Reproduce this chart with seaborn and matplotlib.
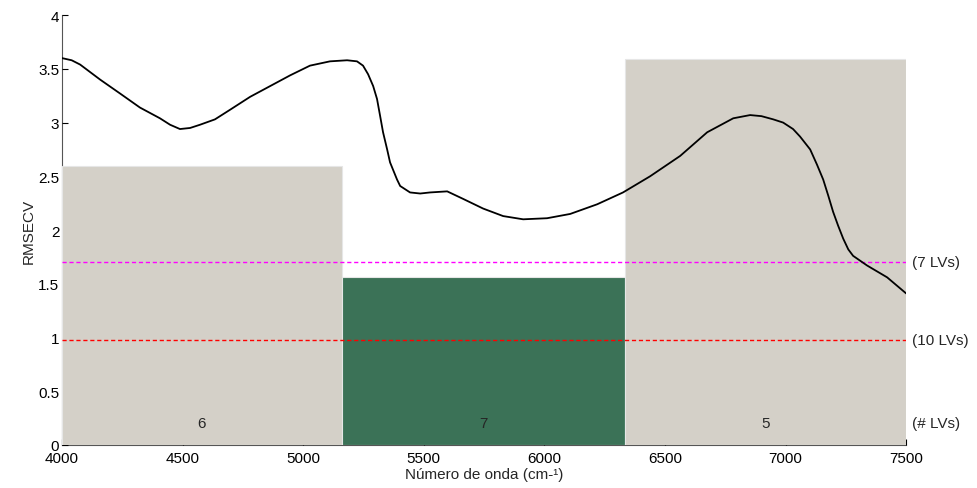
import matplotlib
matplotlib.use("Agg")
import matplotlib.pyplot as plt
import seaborn as sns
import pandas as pd

# interval model: edges, RMSECV per interval, number of LVs
interval_start = [4000, 5160, 6335]
interval_end = [5160, 6335, 7500]
interval_rmsecv = [2.6, 1.563, 3.59]
interval_lvs = ["6", "7", "5"]
interval_colors = ["#D4D0C8", "#3B7257", "#D4D0C8"]

# global model references
ref_rmsecv = [1.70, 0.977]
ref_labels = ["(7 LVs)", "(10 LVs)"]
ref_colors = ["#FF00FF", "#FF0000"]

# mean spectrum
wavenumber = [4000, 4040, 4075, 4158, 4241, 4323, 4406, 4448, 4489, 4531, 4572,
              4634, 4697, 4780, 4863, 4946, 5028, 5111, 5182, 5223, 5248, 5269,
              5290, 5306, 5319, 5331, 5348, 5360, 5389, 5402, 5443, 5485, 5526,
              5597, 5663, 5746, 5829, 5912, 6011, 6107, 6219, 6326, 6438, 6563,
              6675, 6783, 6853, 6900, 6949, 6990, 7031, 7060, 7102, 7130, 7156,
              7177, 7197, 7218, 7239, 7260, 7280, 7338, 7421, 7500]
spectrum = [3.60, 3.58, 3.54, 3.40, 3.27, 3.14, 3.04, 2.98, 2.94, 2.95, 2.98,
            3.03, 3.12, 3.24, 3.34, 3.44, 3.53, 3.57, 3.58, 3.57, 3.53, 3.45,
            3.34, 3.22, 3.06, 2.91, 2.75, 2.63, 2.47, 2.41, 2.35, 2.34, 2.35,
            2.36, 2.29, 2.20, 2.13, 2.10, 2.11, 2.15, 2.24, 2.35, 2.50, 2.69,
            2.91, 3.04, 3.07, 3.06, 3.03, 3.00, 2.94, 2.87, 2.75, 2.61, 2.47,
            2.32, 2.17, 2.04, 1.92, 1.82, 1.76, 1.67, 1.56, 1.41]

sns.set_style("ticks")
plt.rcParams["font.family"] = ["Liberation Sans", "DejaVu Sans"]

fig = plt.figure(figsize=(9.77, 4.89), dpi=100)
ax = fig.add_axes([0.0635, 0.088, 0.864, 0.879])

widths = [e - s for s, e in zip(interval_start, interval_end)]
ax.bar(interval_start, interval_rmsecv, width=widths, align="edge",
       color=interval_colors, edgecolor="#E6E6E6", linewidth=0.8, zorder=1)

for s, e, lv in zip(interval_start, interval_end, interval_lvs):
    ax.text((s + e) / 2, 0.2, lv, ha="center", va="center", fontsize=11, zorder=4)

for val, lab, col in zip(ref_rmsecv, ref_labels, ref_colors):
    ax.plot([4000, 7500], [val, val], color=col, linestyle=(0, (3, 2)),
            linewidth=1, zorder=3)
    ax.text(7525, val, lab, ha="left", va="center", fontsize=11)
ax.text(7525, 0.2, "(# LVs)", ha="left", va="center", fontsize=11)

df = pd.DataFrame({"wn": wavenumber, "rmsecv": spectrum})
sns.lineplot(data=df, x="wn", y="rmsecv", color="black", linewidth=1.3,
             ax=ax, zorder=5)

ax.set_xlim(4000, 7500)
ax.set_ylim(0, 4)
ax.set_xticks(range(4000, 7501, 500))
ax.set_yticks([0, 0.5, 1, 1.5, 2, 2.5, 3, 3.5, 4])
ax.set_yticklabels(["0", "0.5", "1", "1.5", "2", "2.5", "3", "3.5", "4"])
ax.tick_params(direction="in", length=4, labelsize=11, colors="black")
ax.tick_params(axis="x", pad=4)
ax.tick_params(axis="y", pad=2)
for side in ["top", "right"]:
    ax.spines[side].set_visible(False)
for side in ["left", "bottom"]:
    ax.spines[side].set_color("#555555")
    ax.spines[side].set_linewidth(0.8)
    ax.spines[side].set_zorder(0.5)

ax.set_xlabel("Número de onda (cm-¹)", fontsize=11, labelpad=2)
ax.set_ylabel("RMSECV", fontsize=11, labelpad=2)

fig.savefig("out.png", dpi=100)
